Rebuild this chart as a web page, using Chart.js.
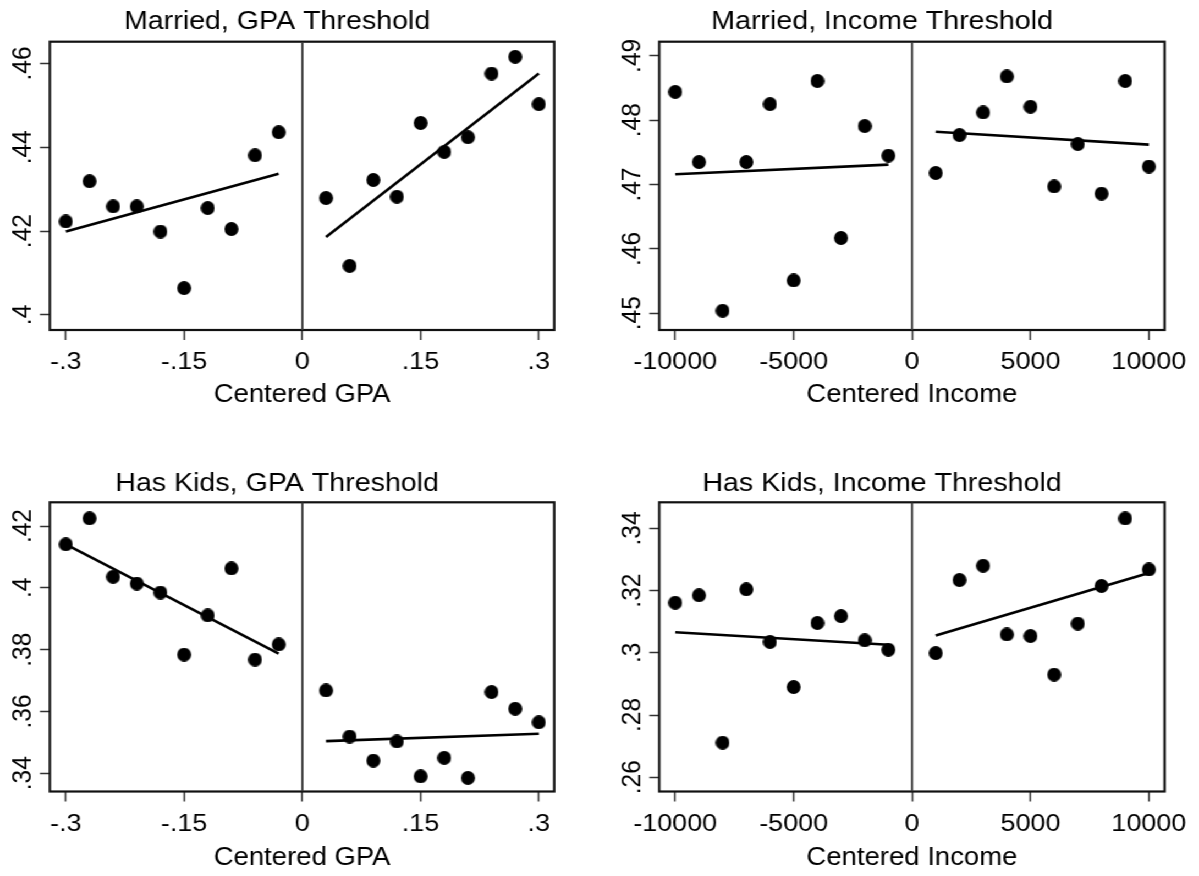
<!DOCTYPE html>
<html>
<head>
<meta charset="utf-8">
<script src="https://cdn.jsdelivr.net/npm/chart.js@4.4.1/dist/chart.umd.min.js"></script>
<style>
  html, body { margin: 0; padding: 0; background: #fff; overflow: hidden; }
  /* the reference is a bit wider than tall, so the whole stage is stretched */
  #stage { position: absolute; left: 0; top: 0; width: 1090px; height: 876px;
           transform: scaleX(1.1); transform-origin: 0 0; }
  .cell { position: absolute; width: 545px; height: 438px; }
</style>
</head>
<body>
<div id="stage">
  <div class="cell" style="left:0;top:0"><canvas id="c1" width="545" height="438"></canvas></div>
  <div class="cell" style="left:545px;top:0"><canvas id="c2" width="545" height="438"></canvas></div>
  <div class="cell" style="left:0;top:438px"><canvas id="c3" width="545" height="438"></canvas></div>
  <div class="cell" style="left:545px;top:438px"><canvas id="c4" width="545" height="438"></canvas></div>
</div>
<script>
// bins
var gpaLeftX = [-0.30, -0.27, -0.24, -0.21, -0.18, -0.15, -0.12, -0.09, -0.06, -0.03];
var gpaRightX = [0.03, 0.06, 0.09, 0.12, 0.15, 0.18, 0.21, 0.24, 0.27, 0.30];
var incomeLeftX = [-10000, -9000, -8000, -7000, -6000, -5000, -4000, -3000, -2000, -1000];
var incomeRightX = [1000, 2000, 3000, 4000, 5000, 6000, 7000, 8000, 9000, 10000];

// married
var marriedGpaLeft = [0.4223, 0.4319, 0.4259, 0.4259, 0.4199, 0.4064, 0.4255, 0.4205, 0.4381, 0.4436];
var marriedGpaRight = [0.4279, 0.4117, 0.4322, 0.4282, 0.4458, 0.4389, 0.4424, 0.4576, 0.4616, 0.4503];
var marriedGpaFitLeft = [0.4199, 0.4337];
var marriedGpaFitRight = [0.4186, 0.4576];

var marriedIncLeft = [0.4844, 0.4735, 0.4504, 0.4735, 0.4825, 0.4551, 0.4861, 0.4617, 0.4791, 0.4745];
var marriedIncRight = [0.4718, 0.4777, 0.4812, 0.4868, 0.4821, 0.4697, 0.4763, 0.4686, 0.4861, 0.4728];
var marriedIncFitLeft = [0.4716, 0.4731];
var marriedIncFitRight = [0.4782, 0.4762];

// has kids
var kidsGpaLeft = [0.4141, 0.4225, 0.4036, 0.4014, 0.3985, 0.3784, 0.3911, 0.4063, 0.3768, 0.3817];
var kidsGpaRight = [0.3668, 0.3519, 0.3441, 0.3503, 0.3390, 0.3450, 0.3385, 0.3663, 0.3609, 0.3565];
var kidsGpaFitLeft = [0.4141, 0.3787];
var kidsGpaFitRight = [0.3504, 0.3528];

var kidsIncLeft = [0.3161, 0.3185, 0.2711, 0.3204, 0.3035, 0.2890, 0.3096, 0.3118, 0.3040, 0.3010];
var kidsIncRight = [0.2999, 0.3234, 0.3280, 0.3059, 0.3054, 0.2930, 0.3094, 0.3215, 0.3432, 0.3268];
var kidsIncFitLeft = [0.3066, 0.3026];
var kidsIncFitRight = [0.3056, 0.3257];

// ticks
var gpaTicks = [-0.3, -0.15, 0, 0.15, 0.3];
var gpaTickLabels = ['-.3', '-.15', '0', '.15', '.3'];
var incomeTicks = [-10000, -5000, 0, 5000, 10000];
var incomeTickLabels = ['-10000', '-5000', '0', '5000', '10000'];
var marriedGpaYTicks = [0.40, 0.42, 0.44, 0.46];
var marriedGpaYLabels = ['.4', '.42', '.44', '.46'];
var marriedIncYTicks = [0.45, 0.46, 0.47, 0.48, 0.49];
var marriedIncYLabels = ['.45', '.46', '.47', '.48', '.49'];
var kidsGpaYTicks = [0.34, 0.36, 0.38, 0.40, 0.42];
var kidsGpaYLabels = ['.34', '.36', '.38', '.4', '.42'];
var kidsIncYTicks = [0.26, 0.28, 0.30, 0.32, 0.34];
var kidsIncYLabels = ['.26', '.28', '.3', '.32', '.34'];

var FONT = "'Liberation Sans', Arial, sans-serif";

// round dot after the 1.1 horizontal stretch
var dot = document.createElement('canvas');
dot.width = 13;
dot.height = 14;
(function () {
    var g = dot.getContext('2d');
    g.fillStyle = '#000';
    g.beginPath();
    g.ellipse(6.5, 7, 6.36, 7, 0, 0, Math.PI * 2);
    g.fill();
})();

function pts(xs, ys) {
    return xs.map(function (x, i) { return {x: x, y: ys[i]}; });
}

function labelFor(ticks, labels) {
    return function (v) {
        for (var i = 0; i < ticks.length; i++) {
            if (Math.abs(ticks[i] - v) < 1e-9 * Math.max(1, Math.abs(v))) return labels[i];
        }
        return '';
    };
}

var frameBox = {
    id: 'frameBox',
    beforeDatasetsDraw: function (chart) {
        var a = chart.chartArea, ctx = chart.ctx;
        ctx.save();
        ctx.strokeStyle = '#111';
        ctx.lineWidth = 2.2;
        ctx.strokeRect(a.left, a.top, a.right - a.left, a.bottom - a.top);
        ctx.restore();
    }
};

function makePanel(id, p) {
    var lineDs = function (data, color, width) {
        return {data: data, showLine: true, borderColor: color, borderWidth: width,
                pointRadius: 0, pointHoverRadius: 0};
    };
    new Chart(document.getElementById(id), {
        type: 'scatter',
        data: {
            datasets: [
                lineDs([{x: 0, y: p.yMin}, {x: 0, y: p.yMax}], '#383838', 1.9),
                lineDs(pts([p.xl[0], p.xl[p.xl.length - 1]], p.fitL), '#000', 2.6),
                lineDs(pts([p.xr[0], p.xr[p.xr.length - 1]], p.fitR), '#000', 2.6),
                {data: pts(p.xl, p.yl).concat(pts(p.xr, p.yr)), pointStyle: dot,
                 pointRadius: 7, backgroundColor: '#000', borderColor: '#000'}
            ]
        },
        options: {
            responsive: false,
            animation: false,
            events: [],
            layout: {padding: {left: 0, top: 0, right: p.padRight, bottom: 0}},
            plugins: {
                legend: {display: false},
                tooltip: {enabled: false},
                title: {display: true, text: p.title, color: '#000',
                        font: {family: FONT, size: 26, weight: 'normal', lineHeight: 1.2},
                        padding: {top: p.titleTop, bottom: p.titleBottom}}
            },
            scales: {
                x: {
                    type: 'linear', min: p.xMin, max: p.xMax,
                    afterBuildTicks: function (s) { s.ticks = p.xTicks.map(function (v) { return {value: v}; }); },
                    afterFit: function (s) { s.height = p.xHeight; s.paddingLeft = 0; s.paddingRight = 0; },
                    grid: {drawOnChartArea: false, drawTicks: true, tickLength: 10, tickColor: '#333', tickWidth: 1.5},
                    border: {display: false},
                    ticks: {autoSkip: false, maxRotation: 0, padding: 8, color: '#000',
                            font: {family: FONT, size: 24.5}, callback: labelFor(p.xTicks, p.xLabels)},
                    title: {display: true, text: p.xTitle, color: '#000',
                            font: {family: FONT, size: 25}, padding: {top: 0, bottom: p.xTitleBottom}}
                },
                y: {
                    type: 'linear', min: p.yMin, max: p.yMax,
                    afterBuildTicks: function (s) { s.ticks = p.yTicks.map(function (v) { return {value: v}; }); },
                    afterFit: function (s) { s.width = p.yWidth; s.paddingTop = 0; s.paddingBottom = 0; },
                    grid: {drawOnChartArea: false, drawTicks: true, tickLength: 9, tickColor: '#333', tickWidth: 1.5},
                    border: {display: false},
                    ticks: {autoSkip: false, minRotation: 90, maxRotation: 90, crossAlign: 'center', padding: -2,
                            color: '#000', font: {family: FONT, size: 24.5}, callback: labelFor(p.yTicks, p.yLabels)}
                }
            }
        },
        plugins: [frameBox]
    });
}

var topRow = {titleTop: 6.1, titleBottom: 4.4, xHeight: 108, xTitleBottom: 27.7};
var bottomRow = {titleTop: 30.1, titleBottom: 3.0, xHeight: 84.5, xTitleBottom: 2.7};
var gpaCol = {xMin: -0.3203, xMax: 0.3195, xTicks: gpaTicks, xLabels: gpaTickLabels,
              xTitle: 'Centered GPA', xl: gpaLeftX, xr: gpaRightX, yWidth: 45.3, padRight: 41.2};
var incCol = {xMin: -10676, xMax: 10663, xTicks: incomeTicks, xLabels: incomeTickLabels,
              xTitle: 'Centered Income', xl: incomeLeftX, xr: incomeRightX, yWidth: 54.3, padRight: 31.3};

makePanel('c1', Object.assign({}, topRow, gpaCol, {
    title: 'Married, GPA Threshold', yMin: 0.3964, yMax: 0.4652,
    yTicks: marriedGpaYTicks, yLabels: marriedGpaYLabels,
    yl: marriedGpaLeft, yr: marriedGpaRight, fitL: marriedGpaFitLeft, fitR: marriedGpaFitRight}));

makePanel('c2', Object.assign({}, topRow, incCol, {
    title: 'Married, Income Threshold', yMin: 0.4474, yMax: 0.4922,
    yTicks: marriedIncYTicks, yLabels: marriedIncYLabels,
    yl: marriedIncLeft, yr: marriedIncRight, fitL: marriedIncFitLeft, fitR: marriedIncFitRight}));

makePanel('c3', Object.assign({}, bottomRow, gpaCol, {
    title: 'Has Kids, GPA Threshold', yMin: 0.3341, yMax: 0.4277,
    yTicks: kidsGpaYTicks, yLabels: kidsGpaYLabels,
    yl: kidsGpaLeft, yr: kidsGpaRight, fitL: kidsGpaFitLeft, fitR: kidsGpaFitRight}));

makePanel('c4', Object.assign({}, bottomRow, incCol, {
    title: 'Has Kids, Income Threshold', yMin: 0.2554, yMax: 0.3484,
    yTicks: kidsIncYTicks, yLabels: kidsIncYLabels,
    yl: kidsIncLeft, yr: kidsIncRight, fitL: kidsIncFitLeft, fitR: kidsIncFitRight}));
</script>
</body>
</html>
